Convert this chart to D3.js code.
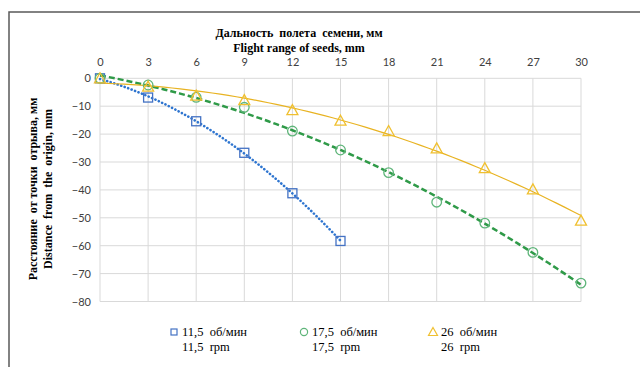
<!DOCTYPE html>
<html><head><meta charset="utf-8">
<script src="https://cdn.jsdelivr.net/npm/d3@7"></script>
<style>body{margin:0;background:#fff}svg{display:block}</style>
</head><body>
<svg id="c" width="640" height="367"></svg>
<script>
const xTicks = [0,3,6,9,12,15,18,21,24,27,30];
const yTicks = [0,-10,-20,-30,-40,-50,-60,-70,-80];
const xBlue = [0,3,6,9,12,15];
const yBlue = [0,-6.9,-15.4,-26.7,-41.2,-58.3];
const xGreen = [0,3,6,9,12,15,18,21,24,27,30];
const yGreen = [0,-2.4,-6.8,-10.4,-18.9,-25.7,-33.8,-44.4,-51.9,-62.4,-73.4];
const xYellow = [0,3,6,9,12,15,18,21,24,27,30];
const yYellow = [0,-3.0,-6.2,-7.8,-11.4,-15.2,-18.9,-25.1,-32.2,-39.8,-51.0];
const legendRu = ["11,5  об/мин","17,5  об/мин","26  об/мин"];
const legendEn = ["11,5  rpm","17,5  rpm","26  rpm"];
const titleX = ["Дальность  полета  семени, мм","Flight range of seeds, mm"];
const titleY = ["Расстояние  от точки  отрыва, мм","Distance  from  the  origin, mm"];

const svg = d3.select("#c");
svg.append("rect").attr("x",9).attr("y",12).attr("width",700).attr("height",400)
  .attr("fill","#fff").attr("stroke","#595959").attr("stroke-width",1.5);

const x = d3.scaleLinear().domain([0,30]).range([100,581]);
const y = d3.scaleLinear().domain([0,-80]).range([78.3,301.5]);

// grid
svg.append("g").selectAll("line").data(xTicks).join("line")
  .attr("x1",d=>x(d)).attr("x2",d=>x(d)).attr("y1",y(0)).attr("y2",y(-80))
  .attr("stroke","#d9d9d9").attr("stroke-width",1);
svg.append("g").selectAll("line").data(yTicks).join("line")
  .attr("x1",x(0)).attr("x2",x(30)).attr("y1",d=>y(d)).attr("y2",d=>y(d))
  .attr("stroke","#d9d9d9").attr("stroke-width",1);

const tickFont = "Lato, 'Liberation Sans Narrow', sans-serif";
const ax = svg.append("g").attr("transform",`translate(0,${y(0)})`)
  .call(d3.axisTop(x).tickValues(xTicks).tickSize(0).tickPadding(12));
ax.select(".domain").remove();
ax.selectAll("text").attr("font-family",tickFont).attr("font-size",11).attr("fill","#404040");
const ay = svg.append("g").attr("transform",`translate(${x(0)},0)`)
  .call(d3.axisLeft(y).tickValues(yTicks).tickSize(0).tickPadding(9));
ay.select(".domain").remove();
ay.selectAll("text").attr("font-family",tickFont).attr("font-size",11).attr("fill","#404040");

// titles
const serif = "'Liberation Serif','Times New Roman',serif";
svg.append("g").selectAll("text").data(titleX).join("text")
  .attr("x",299).attr("y",(d,i)=>37+i*15).attr("text-anchor","middle")
  .attr("font-family",serif).attr("font-weight","bold").attr("font-size",12).attr("fill","#000")
  .attr("xml:space","preserve").text(d=>d);
svg.append("g").selectAll("text").data(titleY).join("text")
  .attr("transform",(d,i)=>`translate(${37+i*14.5},189) rotate(-90)`).attr("text-anchor","middle")
  .attr("font-family",serif).attr("font-weight","bold").attr("font-size",12).attr("fill","#000")
  .attr("xml:space","preserve").text(d=>d);

// quadratic least squares trendline (like spreadsheet trendline)
function quadFit(xs, ys){
  let n=xs.length,S=[0,0,0,0,0],T=[0,0,0];
  for(let i=0;i<n;i++){const xv=xs[i];for(let k=0;k<5;k++)S[k]+=Math.pow(xv,k);for(let k=0;k<3;k++)T[k]+=ys[i]*Math.pow(xv,k);}
  const A=[[S[0],S[1],S[2],T[0]],[S[1],S[2],S[3],T[1]],[S[2],S[3],S[4],T[2]]];
  for(let i=0;i<3;i++){for(let j=i+1;j<3;j++){const f=A[j][i]/A[i][i];for(let k=i;k<4;k++)A[j][k]-=f*A[i][k];}}
  const c=[0,0,0];
  for(let i=2;i>=0;i--){let s=A[i][3];for(let k=i+1;k<3;k++)s-=A[i][k]*c[k];c[i]=s/A[i][i];}
  return v=>c[0]+c[1]*v+c[2]*v*v;
}
const series = [
  {xs:xBlue,ys:yBlue,line:"#2e75d0",mk:"#4472c4",dash:"0.1,3.6",w:2.6,cap:"round",shape:"sq"},
  {xs:xGreen,ys:yGreen,line:"#2f9a48",mk:"#5fb57a",dash:"6,3",w:2.5,cap:"butt",shape:"ci"},
  {xs:xYellow,ys:yYellow,line:"#e8b322",mk:"#f0c030",dash:null,w:1.2,cap:"butt",shape:"tr"}
];
const line = d3.line().x(d=>x(d[0])).y(d=>y(d[1]));
series.forEach(s=>{
  const f = quadFit(s.xs,s.ys);
  const x0 = s.xs[0], x1 = s.xs[s.xs.length-1];
  const pts = d3.range(0,61).map(i=>{const v=x0+(x1-x0)*i/60;return [v,f(v)];});
  const p = svg.append("path").datum(pts).attr("d",line).attr("fill","none")
    .attr("stroke",s.line).attr("stroke-width",s.w).attr("stroke-linecap",s.cap);
  if(s.dash) p.attr("stroke-dasharray",s.dash);
});
function marker(g,shape,cx,cy,col){
  if(shape==="sq") g.append("rect").attr("x",cx-4.5).attr("y",cy-4.5).attr("width",9).attr("height",9)
    .attr("fill","none").attr("stroke",col).attr("stroke-width",1.3);
  else if(shape==="ci") g.append("circle").attr("cx",cx).attr("cy",cy).attr("r",4.8)
    .attr("fill","none").attr("stroke",col).attr("stroke-width",1.3);
  else g.append("path").attr("d",`M${cx},${cy-5.5}L${cx+5.5},${cy+4.5}L${cx-5.5},${cy+4.5}Z`)
    .attr("fill","none").attr("stroke",col).attr("stroke-width",1.3);
}
series.forEach(s=>{
  const g = svg.append("g");
  s.xs.forEach((xv,i)=>marker(g,s.shape,x(xv),y(s.ys[i]),s.mk));
});

// legend
const legX = [174,304,433];
series.forEach((s,i)=>{
  const g = svg.append("g");
  if(s.shape==="sq") g.append("rect").attr("x",legX[i]-3).attr("y",329).attr("width",6).attr("height",6)
    .attr("fill","none").attr("stroke",s.mk).attr("stroke-width",1.2);
  else if(s.shape==="ci") g.append("circle").attr("cx",legX[i]).attr("cy",332).attr("r",3.6)
    .attr("fill","none").attr("stroke",s.mk).attr("stroke-width",1.2);
  else g.append("path").attr("d",`M${legX[i]},${327.5}L${legX[i]+4.5},${335.5}L${legX[i]-4.5},${335.5}Z`)
    .attr("fill","none").attr("stroke",s.mk).attr("stroke-width",1.2);
  g.append("text").attr("x",legX[i]+8).attr("y",336).attr("font-family",serif).attr("font-size",12.5)
    .attr("fill","#000").attr("xml:space","preserve").text(legendRu[i]);
  g.append("text").attr("x",legX[i]+8).attr("y",350.5).attr("font-family",serif).attr("font-size",12.5)
    .attr("fill","#000").attr("xml:space","preserve").text(legendEn[i]);
});
</script>
</body></html>
